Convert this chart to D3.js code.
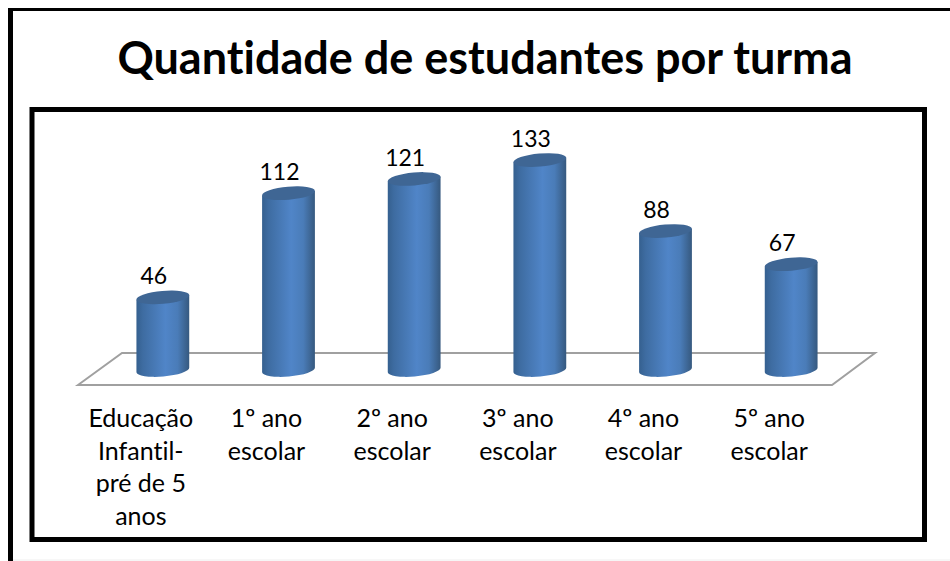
<!DOCTYPE html>
<html>
<head>
<meta charset="utf-8">
<script src="https://cdn.jsdelivr.net/npm/d3@7"></script>
<style>
  html, body { margin: 0; padding: 0; background: #fff; }
  text { font-family: Lato, "Open Sans", sans-serif; fill: #000; font-variant-ligatures: none; }
</style>
</head>
<body>
<div id="chart"></div>
<script>
// chart data
var categories = ["Educação Infantil- pré de 5 anos", "1º ano escolar", "2º ano escolar", "3º ano escolar", "4º ano escolar", "5º ano escolar"];
var categoryLines = [
  ["Educação", "Infantil-", "pré de 5", "anos"],
  ["1º ano", "escolar"],
  ["2º ano", "escolar"],
  ["3º ano", "escolar"],
  ["4º ano", "escolar"],
  ["5º ano", "escolar"]
];
var students = [46, 112, 121, 133, 88, 67];

// SVG layout
var svgWidth = 950;
var svgHeight = 561;

var svg = d3.select("#chart")
  .append("svg")
  .attr("width", svgWidth)
  .attr("height", svgHeight)
  .style("display", "block");

// picture frames: outer has only top and left edges
svg.append("line")
  .attr("x1", 8).attr("x2", 950)
  .attr("y1", 9.5).attr("y2", 9.5)
  .attr("stroke", "#000")
  .attr("stroke-width", 3);
svg.append("line")
  .attr("x1", 10.5).attr("x2", 10.5)
  .attr("y1", 8).attr("y2", 561)
  .attr("stroke", "#000")
  .attr("stroke-width", 5);
svg.append("line")
  .attr("x1", 13).attr("x2", 950)
  .attr("y1", 560).attr("y2", 560)
  .attr("stroke", "#eee");
svg.append("rect")
  .attr("x", 32).attr("y", 109.5)
  .attr("width", 892.5).attr("height", 430)
  .attr("fill", "#fff")
  .attr("stroke", "#000")
  .attr("stroke-width", 5);

svg.append("text")
  .attr("x", 485)
  .attr("y", 74)
  .attr("text-anchor", "middle")
  .attr("font-size", 45)
  .attr("font-weight", 700)
  .text("Quantidade de estudantes por turma");

// scales: x runs along the front edge of the floor, columns sit deeper in
var depthX = 22;
var x = d3.scaleBand()
  .domain(categories)
  .range([78, 832]);
var y = d3.scaleLinear()
  .domain([0, 140])
  .range([370, 149]);

// floor
var floorBack = 353;
var floorFront = 385;
svg.append("path")
  .attr("d", `M78,${floorFront}L122,${floorBack}H875L832,${floorFront}Z`)
  .attr("fill", "#fff")
  .attr("stroke", "#a0a0a0")
  .attr("stroke-width", 2);

// column shading
var defs = svg.append("defs");
var grad = defs.append("linearGradient").attr("id", "cyl");
grad.selectAll("stop")
  .data([[0, "#35608f"], [0.12, "#3e6ca1"], [0.55, "#5085c8"], [0.78, "#4a7cb8"], [1, "#36597f"]])
  .enter()
  .append("stop")
  .attr("offset", d => d[0])
  .attr("stop-color", d => d[1]);

var rx = 26.5, ry = 6.5, tilt = -5;
var dx = rx * Math.cos(tilt * Math.PI / 180);
var dy = rx * Math.sin(tilt * Math.PI / 180);

var columns = svg.selectAll(".column")
  .data(students)
  .enter()
  .append("g")
  .attr("class", "column")
  .attr("transform", (d, i) => `translate(${x(categories[i]) + x.bandwidth() / 2 + depthX},0)`);

columns.append("path")
  .attr("d", d => `M${-dx},${y(d) - dy}` +
    `L${-dx},${y(0) - dy}` +
    `A${rx},${ry} ${tilt} 0 0 ${dx},${y(0) + dy}` +
    `L${dx},${y(d) + dy}Z`)
  .attr("fill", "url(#cyl)");

columns.append("ellipse")
  .attr("rx", rx)
  .attr("ry", ry)
  .attr("transform", d => `translate(0,${y(d)}) rotate(${tilt})`)
  .attr("fill", "#3f6694");

// value labels
columns.append("text")
  .attr("x", -9)
  .attr("y", d => y(d) - 13)
  .attr("text-anchor", "middle")
  .attr("font-size", 23)
  .text(d => d);

// category labels
svg.selectAll(".cat")
  .data(categories)
  .enter()
  .append("text")
  .attr("class", "cat")
  .attr("text-anchor", "middle")
  .attr("font-size", 25)
  .each(function(d, i) {
    d3.select(this).selectAll("tspan")
      .data(categoryLines[i])
      .enter()
      .append("tspan")
      .attr("x", x(d) + x.bandwidth() / 2)
      .attr("y", (t, j) => 427 + j * 32.5)
      .text(t => t);
  });
</script>
</body>
</html>
